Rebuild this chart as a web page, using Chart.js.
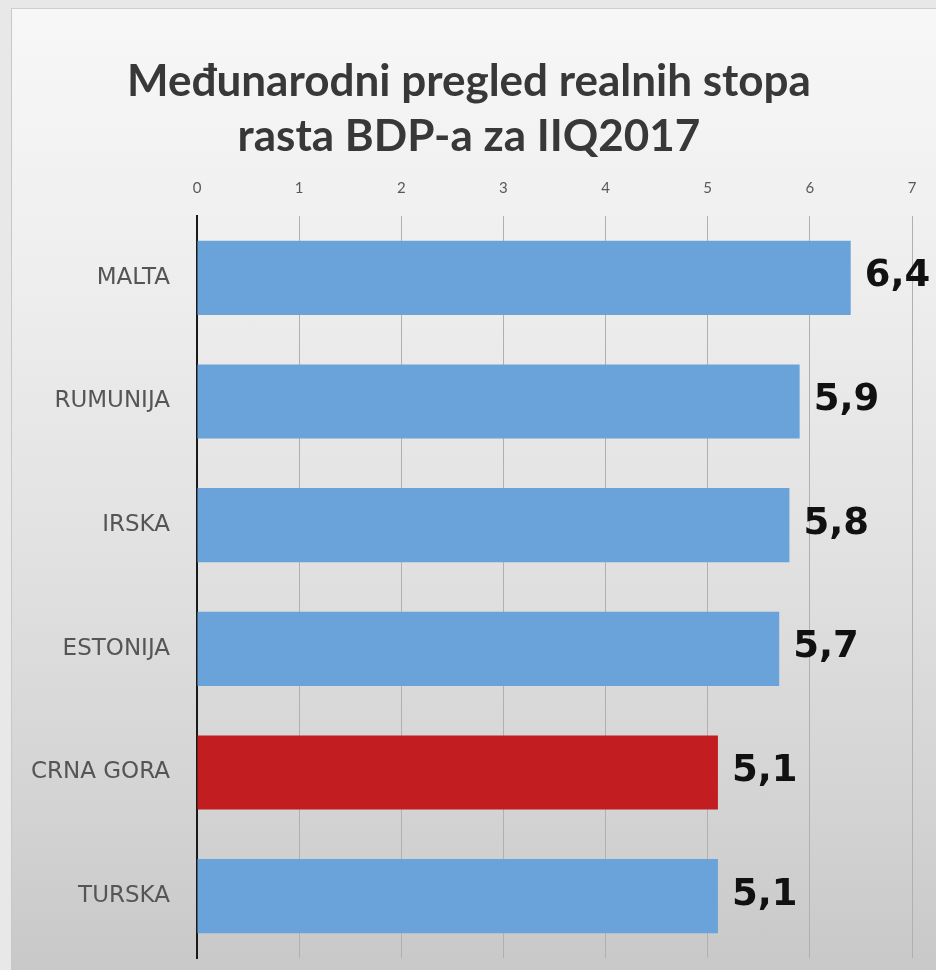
<!DOCTYPE html>
<html>
<head>
<meta charset="utf-8">
<script src="https://cdn.jsdelivr.net/npm/chart.js@4/dist/chart.umd.min.js"></script>
<style>
  html, body { margin: 0; padding: 0; background: #e8e8e8; overflow: hidden; }
  #wrap { position: relative; width: 936px; height: 970px; overflow: hidden; }
  #panel { position: absolute; left: 11px; top: 8px; width: 925px; height: 962px;
    background: linear-gradient(to bottom, #f7f7f7 0%, #efefef 25%, #e2e2e2 55%, #d2d2d2 85%, #c8c8c8 100%);
    border-left: 1px solid #c8c8c8; border-top: 1px solid #cfcfcf; box-sizing: border-box; }
  canvas { position: absolute; left: 0; top: 0; width: 936px; height: 970px; }
</style>
</head>
<body>
<div id="wrap">
  <div id="panel"></div>
  <canvas id="c" width="936" height="970"></canvas>
</div>
<script>
const titleLines = ['Međunarodni pregled realnih stopa', 'rasta BDP-a za IIQ2017'];
const categories = ['MALTA', 'RUMUNIJA', 'IRSKA', 'ESTONIJA', 'CRNA GORA', 'TURSKA'];
const growthValues = [6.4, 5.9, 5.8, 5.7, 5.1, 5.1];
const barColors = ['#6aa3d9', '#6aa3d9', '#6aa3d9', '#6aa3d9', '#c21d20', '#6aa3d9'];
const axisMin = 0;
const axisMax = 7;
const axisStep = 1;

const valueLabels = {
  id: 'valueLabels',
  afterDatasetsDraw(chart) {
    const ctx = chart.ctx;
    const meta = chart.getDatasetMeta(0);
    ctx.save();
    ctx.font = 'bold 37px "DejaVu Sans"';
    ctx.fillStyle = '#111111';
    ctx.textAlign = 'left';
    ctx.textBaseline = 'middle';
    meta.data.forEach((bar, i) => {
      const txt = String(growthValues[i]).replace('.', ',');
      ctx.fillText(txt, bar.x + 14, bar.y - 1);
    });
    ctx.restore();
  }
};

new Chart(document.getElementById('c'), {
  type: 'bar',
  data: {
    labels: categories,
    datasets: [{
      data: growthValues,
      backgroundColor: barColors,
      borderWidth: 0,
      barPercentage: 0.6,
      categoryPercentage: 1.0
    }]
  },
  options: {
    indexAxis: 'y',
    responsive: false,
    animation: false,
    layout: { padding: { left: 26, right: 24, top: 0, bottom: 12 } },
    plugins: {
      legend: { display: false },
      tooltip: { enabled: false },
      title: {
        display: true,
        text: titleLines,
        color: '#383838',
        font: { family: 'Lato', size: 44, weight: 'bold', lineHeight: 1.25 },
        padding: { top: 54, bottom: 0 }
      }
    },
    scales: {
      x: {
        position: 'top',
        min: axisMin,
        max: axisMax,
        ticks: { stepSize: axisStep, color: '#595959', font: { family: 'Lato', size: 15 }, padding: 19 },
        grid: { color: '#b0b0b0', lineWidth: 1, drawTicks: false },
        border: { display: false },
        afterFit(scale) { scale.height = 52; }
      },
      y: {
        ticks: { color: '#555555', font: { family: 'DejaVu Sans', size: 23 }, padding: 27 },
        grid: { display: false, drawTicks: false },
        border: { display: true, color: '#1a1a1a', width: 2 },
        afterFit(scale) { scale.width = 171; scale.paddingTop = 0; scale.paddingBottom = 0; }
      }
    }
  },
  plugins: [valueLabels]
});
</script>
</body>
</html>
